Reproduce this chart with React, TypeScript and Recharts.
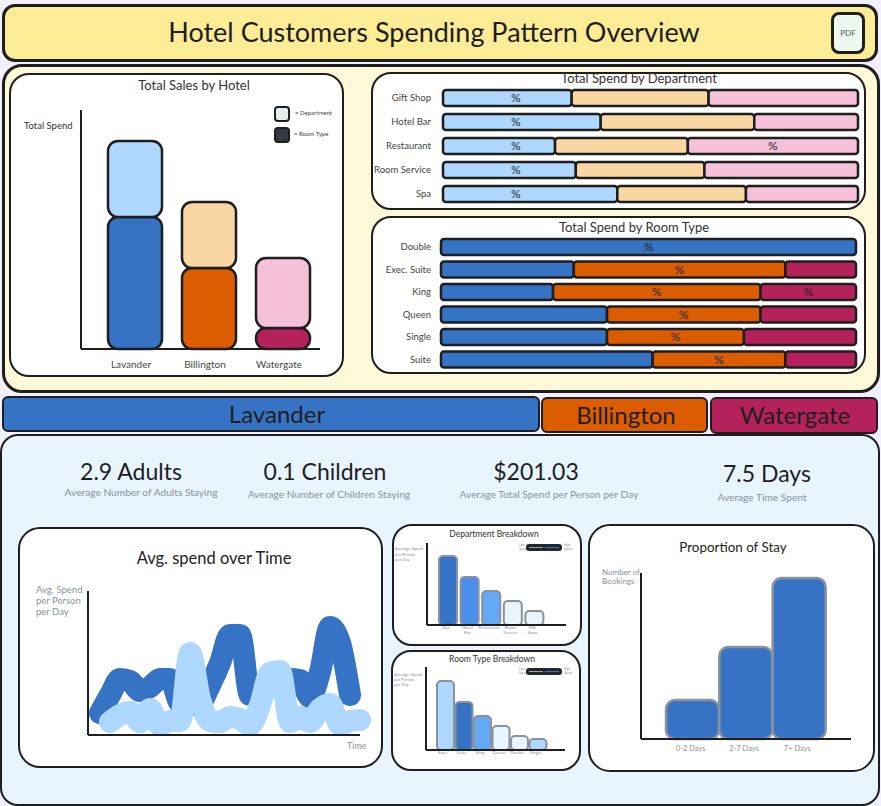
import React from "react";
import { BarChart, Bar, XAxis, YAxis, Cell, LabelList, LineChart, Line } from "recharts";

const INK = "#1e1e1e";
const GREY = "#8a929e";
const BLUE = "#3673c4";
const ORANGE = "#dc5c00";
const MAROON = "#b5225b";
const SKY = "#aed8ff";
const TAN = "#f8d7a2";
const PINK = "#f5c1d8";
const ICE = "#e8f5ff";
const MID = "#4b8fea";
const SOFT = "#64a9f5";
const FONT = "Lato, 'Noto Sans', sans-serif";

const hotels = ["Lavander", "Billington", "Watergate"];
const roomTypeSpend = [132, 81, 21];
const departmentSpend = [76, 66, 70];
const roomFill = [BLUE, ORANGE, MAROON];
const deptFill = [SKY, TAN, PINK];

const departments = ["Gift Shop", "Hotel Bar", "Restaurant", "Room Service", "Spa"];
const deptLavander = [31, 38, 27, 32, 42];
const deptBillington = [33, 37, 32, 31, 31];
const deptWatergate = [36, 25, 41, 37, 27];
const deptLavanderLabel = ["%", "%", "%", "%", "%"];
const deptWatergateLabel = ["", "", "%", "", ""];

const roomTypes = ["Double", "Exec. Suite", "King", "Queen", "Single", "Suite"];
const roomLavander = [100, 32, 27, 40, 40, 51];
const roomBillington = [0, 51, 50, 37, 33, 32];
const roomWatergate = [0, 17, 23, 23, 27, 17];
const roomLavanderLabel = ["%", "", "", "", "", ""];
const roomBillingtonLabel = ["", "%", "%", "%", "%", "%"];
const roomWatergateLabel = ["", "", "%", "", "", ""];

const timeSteps = ["t0","t1","t2","t3","t4","t5","t6","t7","t8","t9","t10","t11","t12","t13","t14","t15","t16","t17","t18","t19","t20","t21","t22","t23","t24","t25","t26"];
const spendLavander = [22, 40, 56, 54, 44, 48, 56, 56, 32, 30, 32, 50, 72, 100, 100, 40, 47, 50, 53, 56, 55, 38, 63, 108, 92, 40, null];
const spendAverage = [null, 13, 20, 23, 13, 26, 10, 14, 14, 82, 36, 14, 13, 18, 16, 10, 30, 62, 64, 13, 18, 13, 26, 31, 10, 14, 15];

const deptBreakNames = ["Spa", "Hotel Bar", "Restaurant", "Room Service", "Gift Shop"];
const deptBreakValues = [69, 48, 34, 24, 14];
const deptBreakFill = [BLUE, MID, SOFT, ICE, ICE];

const roomBreakNames = ["Exec.", "Suite", "King", "Queen", "Double", "Single"];
const roomBreakValues = [69, 48, 34, 24, 14, 11];
const roomBreakFill = [SKY, BLUE, SOFT, ICE, ICE, SKY];

const stayNames = ["0-2 Days", "2-7 Days", "7+ Days"];
const stayValues = [39, 92, 161];

const kpis = [
  { value: "2.9 Adults", note: "Average Number of Adults Staying", cx: 131, ny: 492, vy: 471, ncx: 141 },
  { value: "0.1 Children", note: "Average Number of Children Staying", cx: 325, ny: 494, vy: 471, ncx: 329 },
  { value: "$201.03", note: "Average Total Spend per Person per Day", cx: 536, ny: 494, vy: 471, ncx: 549 },
  { value: "7.5 Days", note: "Average Time Spent", cx: 767, ny: 497, vy: 473, ncx: 762 },
];

const salesRows = hotels.map((h, i) => ({ h, room: roomTypeSpend[i], dept: departmentSpend[i] }));
const deptRows = departments.map((d, i) => ({ d, a: deptLavander[i], b: deptBillington[i], c: deptWatergate[i], la: deptLavanderLabel[i], lc: deptWatergateLabel[i] }));
const roomRows = roomTypes.map((d, i) => ({ d, a: roomLavander[i], b: roomBillington[i], c: roomWatergate[i], la: roomLavanderLabel[i], lb: roomBillingtonLabel[i], lc: roomWatergateLabel[i] }));
const timeRows = timeSteps.map((t, i) => ({ t, lav: spendLavander[i], avg: spendAverage[i] }));
const deptBreakRows = deptBreakNames.map((n, i) => ({ n, v: deptBreakValues[i] }));
const roomBreakRows = roomBreakNames.map((n, i) => ({ n, v: roomBreakValues[i] }));
const stayRows = stayNames.map((n, i) => ({ n, v: stayValues[i] }));

function Box({ x, y, r, b, fill, bw = 2, radius = 20, color = INK, children }: any) {
  return (
    <div style={{ position: "absolute", left: x, top: y, width: r - x, height: b - y, boxSizing: "border-box", background: fill, border: `${bw}px solid ${color}`, borderRadius: radius }}>
      {children}
    </div>
  );
}

function T({ cx, x, y, size, color = INK, children, weight = 400 }: any) {
  const style: any = { position: "absolute", top: y, fontSize: size, lineHeight: 1, color, fontWeight: weight, whiteSpace: "nowrap", transform: "translateY(-50%)" };
  if (cx !== undefined) {
    style.left = cx;
    style.transform = "translate(-50%,-50%)";
  } else {
    style.left = x;
  }
  return <div style={style}>{children}</div>;
}

const At = ({ x, y, children }: any) => <div style={{ position: "absolute", left: x, top: y }}>{children}</div>;

const pctStyle = { fill: "#222", fontSize: 12, fontWeight: 400 };

function Pct({ dataKey, position = "center", offset }: any) {
  return <LabelList dataKey={dataKey} position={position} offset={offset} style={pctStyle} />;
}

function RowTick({ x, y, payload }: any) {
  return (
    <text x={x} y={y + 3} textAnchor="end" fontSize={9.5} fill="#444">{payload.value}</text>
  );
}

function SmallTick({ x, y, payload }: any) {
  const words = String(payload.value).split(" ");
  return (
    <text x={x - 2} y={y - 4} textAnchor="middle" fontSize={4.5} fill={GREY}>
      {words.map((w, i) => (
        <tspan key={i} x={x - 2} dy={i === 0 ? 0 : 5}>{w}</tspan>
      ))}
    </text>
  );
}

function ScaleKey({ x, y }: any) {
  return (
    <>
      <T x={x - 7} y={y - 2} size={3} color={GREY}>Low</T>
      <T x={x - 7} y={y + 2} size={3} color={GREY}>Spend</T>
      <div style={{ position: "absolute", left: x, top: y - 3, width: 36, height: 7, background: "#23272b", borderRadius: 3 }}>
        <div style={{ position: "absolute", left: 3, top: 3, width: 14, height: 1, background: "#9aa0a6" }} />
        <div style={{ position: "absolute", left: 19, top: 3, width: 14, height: 1, background: BLUE }} />
      </div>
      <T x={x + 38} y={y - 2} size={3} color={GREY}>High</T>
      <T x={x + 38} y={y + 2} size={3} color={GREY}>Spend</T>
    </>
  );
}

export default function App() {
  return (
    <div style={{ position: "absolute", left: 0, top: 0, width: 881, height: 806, background: "#f2f0ff", overflow: "hidden", fontFamily: FONT }}>
      {/* header */}
      <Box x={2} y={4} r={878} b={62} fill="#fcec96" bw={3} radius={13} />
      <T cx={434} y={31} size={27}>Hotel Customers Spending Pattern Overview</T>
      <Box x={831} y={12} r={865} b={54} fill="#edf9ef" bw={3} radius={8} />
      <T cx={848} y={33} size={8} color="#555">PDF</T>

      {/* upper panel */}
      <Box x={2} y={64} r={880} b={393} fill="#fff8d9" bw={3} radius={20} />

      {/* sales by hotel */}
      <Box x={9} y={73} r={344} b={377} fill="#fff" radius={20} />
      <T cx={194} y={85} size={13} color="#333">Total Sales by Hotel</T>
      <T x={24} y={126} size={9.5} color="#333">Total Spend</T>
      <At x={9} y={73}>
        <BarChart width={335} height={304} data={salesRows} margin={{ top: 37, right: 24, bottom: 0, left: 71 }} barCategoryGap={0}>
          <XAxis dataKey="h" height={28} tickLine={false} tickMargin={6} padding={{ left: 17, right: 0 }} axisLine={{ stroke: INK, strokeWidth: 2 }} tick={{ fontSize: 10, fill: "#444", dx: -4 }} interval={0} />
          <YAxis width={1} domain={[0, 239]} tick={false} tickLine={false} axisLine={{ stroke: INK, strokeWidth: 2 }} />
          <Bar dataKey="room" stackId="s" barSize={54} radius={10} stroke={INK} strokeWidth={2.5} isAnimationActive={false}>
            {salesRows.map((_, i) => <Cell key={i} fill={roomFill[i]} />)}
          </Bar>
          <Bar dataKey="dept" stackId="s" barSize={54} radius={10} stroke={INK} strokeWidth={2.5} isAnimationActive={false}>
            {salesRows.map((_, i) => <Cell key={i} fill={deptFill[i]} />)}
          </Bar>
        </BarChart>
      </At>
      <Box x={274} y={106} r={290} b={122} fill="#e9ecef" radius={4} />
      <Box x={274} y={127} r={290} b={143} fill="#343a40" radius={4} />
      <T x={295} y={113} size={6} color="#444">= Department</T>
      <T x={294} y={134} size={6} color="#444">= Room Type</T>

      {/* department share */}
      <Box x={371} y={72} r={866} b={210} fill="#fff" radius={20} />
      <T cx={639} y={78} size={13} color="#333">Total Spend by Department</T>
      <At x={371} y={72}>
        <BarChart width={495} height={138} data={deptRows} layout="vertical" margin={{ top: 14, right: 8, bottom: 4, left: 0 }} barCategoryGap={0}>
          <XAxis type="number" hide domain={[0, 100]} />
          <YAxis type="category" dataKey="d" width={72} axisLine={false} tickLine={false} tickSize={0} tickMargin={12} tick={<RowTick />} interval={0} />
          <Bar dataKey="a" stackId="s" fill={SKY} stroke={INK} strokeWidth={2.5} radius={3} barSize={16} isAnimationActive={false}>
            <Pct dataKey="la" position="insideLeft" offset={68} />
          </Bar>
          <Bar dataKey="b" stackId="s" fill={TAN} stroke={INK} strokeWidth={2.5} radius={3} barSize={16} isAnimationActive={false} />
          <Bar dataKey="c" stackId="s" fill={PINK} stroke={INK} strokeWidth={2.5} radius={3} barSize={16} isAnimationActive={false}>
            <Pct dataKey="lc" />
          </Bar>
        </BarChart>
      </At>

      {/* room share */}
      <Box x={371} y={216} r={866} b={374} fill="#fff" radius={20} />
      <T cx={634} y={227} size={13} color="#333">Total Spend by Room Type</T>
      <At x={371} y={216}>
        <BarChart width={495} height={158} data={roomRows} layout="vertical" margin={{ top: 20, right: 10, bottom: 3, left: 0 }} barCategoryGap={0}>
          <XAxis type="number" hide domain={[0, 100]} />
          <YAxis type="category" dataKey="d" width={70} axisLine={false} tickLine={false} tickSize={0} tickMargin={10} tick={<RowTick />} interval={0} />
          <Bar dataKey="a" stackId="s" fill={BLUE} stroke={INK} strokeWidth={2.5} radius={3} barSize={16} isAnimationActive={false}>
            <Pct dataKey="la" />
          </Bar>
          <Bar dataKey="b" stackId="s" fill={ORANGE} stroke={INK} strokeWidth={2.5} radius={3} barSize={16} isAnimationActive={false}>
            <Pct dataKey="lb" />
          </Bar>
          <Bar dataKey="c" stackId="s" fill={MAROON} stroke={INK} strokeWidth={2.5} radius={3} barSize={16} isAnimationActive={false}>
            <Pct dataKey="lc" />
          </Bar>
        </BarChart>
      </At>

      {/* hotel strip */}
      <Box x={2} y={396} r={540} b={432} fill={BLUE} radius={6} />
      <Box x={541} y={397} r={708} b={433} fill={ORANGE} radius={6} />
      <Box x={710} y={397} r={878} b={434} fill={MAROON} radius={6} />
      <T cx={277} y={414} size={24}>Lavander</T>
      <T cx={626} y={415} size={24}>Billington</T>
      <T cx={795} y={415} size={24}>Watergate</T>

      {/* lower panel */}
      <Box x={0} y={434} r={880} b={806} fill={ICE} radius={18} />
      {kpis.map((k) => (
        <React.Fragment key={k.value}>
          <T cx={k.cx} y={k.vy} size={23}>{k.value}</T>
          <T cx={k.ncx} y={k.ny} size={10.2} color={GREY}>{k.note}</T>
        </React.Fragment>
      ))}

      {/* spend over time */}
      <Box x={18} y={527} r={383} b={768} fill="#fff" radius={22} />
      <T cx={214} y={558} size={16.5} color="#222">Avg. spend over Time</T>
      <T x={36} y={590} size={9.5} color={GREY}>Avg. Spend</T>
      <T x={36} y={601} size={9.5} color={GREY}>per Person</T>
      <T x={36} y={612} size={9.5} color={GREY}>per Day</T>
      <T x={347} y={745} size={9} color={GREY}>Time</T>
      <At x={18} y={527}>
        <LineChart width={365} height={241} data={timeRows} margin={{ top: 64, right: 23, bottom: 0, left: 69 }}>
          <XAxis dataKey="t" height={33} tick={false} tickLine={false} padding={{ left: 12, right: 0 }} axisLine={{ stroke: INK, strokeWidth: 2 }} />
          <YAxis width={1} domain={[0, 144]} tick={false} tickLine={false} axisLine={{ stroke: INK, strokeWidth: 2 }} />
          <Line dataKey="lav" type="monotone" stroke={BLUE} strokeWidth={22} strokeLinecap="round" strokeLinejoin="round" dot={false} isAnimationActive={false} />
          <Line dataKey="avg" type="monotone" stroke={SKY} strokeWidth={22} strokeLinecap="round" strokeLinejoin="round" dot={false} isAnimationActive={false} />
        </LineChart>
      </At>

      {/* department breakdown */}
      <Box x={392} y={524} r={582} b={646} fill="#fff" radius={20} />
      <T cx={494} y={534} size={8.5} color="#333">Department Breakdown</T>
      <T x={395} y={549} size={4.3} color={GREY}>Average Spend</T>
      <T x={395} y={555} size={4.3} color={GREY}>per Person</T>
      <T x={395} y={560} size={4.3} color={GREY}>per Day</T>
      <At x={392} y={524}>
        <BarChart width={190} height={122} data={deptBreakRows} margin={{ top: 19, right: 16, bottom: 0, left: 34 }} barCategoryGap={0}>
          <XAxis dataKey="n" height={21} tickLine={false} padding={{ left: 10, right: 21 }} axisLine={{ stroke: INK, strokeWidth: 2 }} tick={<SmallTick />} interval={0} />
          <YAxis width={1} domain={[0, 82]} tick={false} tickLine={false} axisLine={{ stroke: INK, strokeWidth: 2 }} />
          <Bar dataKey="v" barSize={18} radius={4} stroke={GREY} strokeWidth={2} isAnimationActive={false}>
            {deptBreakRows.map((_, i) => <Cell key={i} fill={deptBreakFill[i]} />)}
          </Bar>
        </BarChart>
      </At>
      <ScaleKey x={526} y={547} />

      {/* room type breakdown */}
      <Box x={391} y={650} r={581} b={771} fill="#fff" radius={20} />
      <T cx={492} y={659} size={8.5} color="#333">Room Type Breakdown</T>
      <T x={394} y={675} size={4.3} color={GREY}>Average Spend</T>
      <T x={394} y={680} size={4.3} color={GREY}>per Person</T>
      <T x={394} y={685} size={4.3} color={GREY}>per Day</T>
      <At x={391} y={650}>
        <BarChart width={190} height={121} data={roomBreakRows} margin={{ top: 17, right: 16, bottom: 0, left: 34 }} barCategoryGap={0}>
          <XAxis dataKey="n" height={21} tickLine={false} padding={{ left: 10, right: 18 }} axisLine={{ stroke: INK, strokeWidth: 2 }} tick={<SmallTick />} interval={0} />
          <YAxis width={1} domain={[0, 83]} tick={false} tickLine={false} axisLine={{ stroke: INK, strokeWidth: 2 }} />
          <Bar dataKey="v" barSize={17} radius={4} stroke={GREY} strokeWidth={2} isAnimationActive={false}>
            {roomBreakRows.map((_, i) => <Cell key={i} fill={roomBreakFill[i]} />)}
          </Bar>
        </BarChart>
      </At>
      <ScaleKey x={526} y={671} />

      {/* length of stay */}
      <Box x={588} y={524} r={875} b={772} fill="#fff" radius={22} />
      <T cx={733} y={548} size={13.4} color="#222">Proportion of Stay</T>
      <T x={602} y={572} size={8} color={GREY}>Number of</T>
      <T x={602} y={581} size={8} color={GREY}>Bookings</T>
      <At x={588} y={524}>
        <BarChart width={287} height={248} data={stayRows} margin={{ top: 49, right: 24, bottom: 0, left: 52 }} barCategoryGap={0}>
          <XAxis dataKey="n" height={33} tickLine={false} tickMargin={1} padding={{ left: 25, right: 25 }} axisLine={{ stroke: INK, strokeWidth: 2 }} tick={{ fontSize: 7.5, fill: GREY, dx: -2 }} interval={0} />
          <YAxis width={1} domain={[0, 166]} tick={false} tickLine={false} axisLine={{ stroke: INK, strokeWidth: 2 }} />
          <Bar dataKey="v" fill={BLUE} stroke={GREY} strokeWidth={2.5} radius={9} isAnimationActive={false} />
        </BarChart>
      </At>
    </div>
  );
}
